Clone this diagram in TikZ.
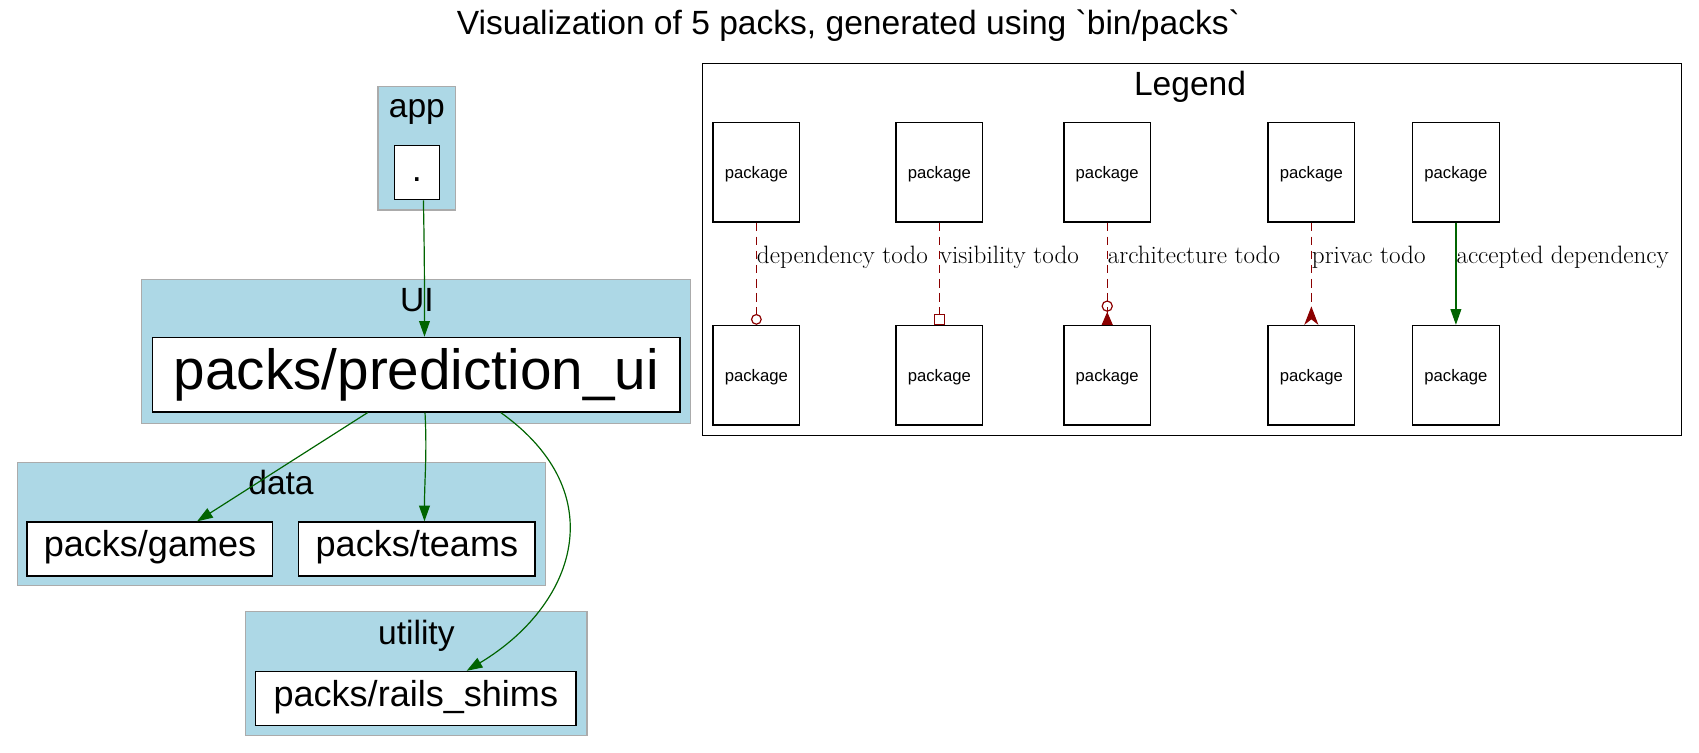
\documentclass[tikz,border=0pt]{standalone}
\usepackage{fontspec}
\usepackage{tikz}
\usetikzlibrary{arrows.meta}
\newfontfamily\gvfont{Liberation Sans}
\definecolor{clusterfill}{HTML}{ADD8E6}
\definecolor{clusterline}{HTML}{ABABAB}
\definecolor{okgreen}{HTML}{006400}
\definecolor{todored}{HTML}{8B0000}

\begin{document}
\begin{tikzpicture}[x=1pt,y=1pt,yscale=-1,
  cluster/.style={draw=clusterline,fill=clusterfill,line width=1.1pt},
  clusterlabel/.style={inner sep=0pt,font=\gvfont\fontsize{31}{37}\selectfont},
  pack/.style={draw=black,fill=white,line width=1.1pt,inner sep=0pt,font=\gvfont\fontsize{33.3}{40}\selectfont,text height=24pt,text depth=10pt},
  legendpack/.style={draw=black,fill=white,line width=1.1pt,inner sep=0pt,minimum width=80pt,minimum height=92pt,font=\gvfont\fontsize{15.4}{18}\selectfont,text height=12pt,text depth=1pt},
  dep/.style={color=okgreen,line width=1.1pt,-{Triangle[length=14.5pt,width=10pt]}},
  todo/.style={color=todored,line width=1.1pt,dash pattern=on 8pt off 5pt},
  edgelabel/.style={midway,anchor=base west,inner sep=0pt,xshift=0pt,yshift=9.6pt,text=black,font=\fontsize{23.2}{27}\selectfont}]
\useasboundingbox (0,0) rectangle (1569,695);

% Title
\node[clusterlabel] (title) at (783.5,24) {Visualization of 5 packs, generated using `bin/packs`};

% Clusters
\draw[cluster] (349,80) rectangle (421,194);
\node[clusterlabel] (applabel) at (385,103) {app};
\draw[cluster] (131,258) rectangle (638,391);
\node[clusterlabel] (uilabel) at (385,277.5) {UI};
\draw[cluster] (16,427) rectangle (504,541);
\node[clusterlabel] (datalabel) at (259.5,446) {data};
\draw[cluster] (227,565) rectangle (542,679);
\node[clusterlabel] (utilitylabel) at (384.5,587) {utility};

% Packs
\node[pack,minimum width=42pt,minimum height=50pt,text depth=7pt] (dot) at (385,159.4) {.};
\node[pack,minimum width=487pt,minimum height=69pt,font=\gvfont\fontsize{52.3}{60}\selectfont,text height=40pt,text depth=12pt] (predui) at (384.5,346) {packs/prediction\_ui};
\node[pack,minimum width=227pt,minimum height=50pt] (games) at (138.5,507) {packs/games};
\node[pack,minimum width=218pt,minimum height=50pt] (teams) at (385,507) {packs/teams};
\node[pack,minimum width=296pt,minimum height=50pt] (shims) at (384,645) {packs/rails\_shims};

% Dependencies
\draw[dep] ([xshift=6pt]dot.south) .. controls +(1,50) and +(0,-50) .. ([xshift=7.5pt]predui.north);
\draw[dep] ([xshift=-45pt]predui.south) -- ([xshift=43.5pt]games.north);
\draw[dep] ([xshift=8pt]predui.south) .. controls +(2,40) and +(0,-40) .. ([xshift=7pt]teams.north);
\draw[dep] ([xshift=78pt]predui.south) .. controls +(105,75) and +(100,-60) .. ([xshift=47pt]shims.north);

% Legend
\draw[line width=1.1pt] (649,59) rectangle (1553,402);
\node[clusterlabel] (legendlabel) at (1099,80) {Legend};
\foreach \name/\x in {dep/698.5,vis/867.5,arch/1022.5,priv/1211,ok/1344.5}{
  \node[legendpack] (\name1) at (\x,159) {package};
  \node[legendpack] (\name2) at (\x,346.5) {package};
}
\draw[todo,-{Circle[open,length=10pt,width=10pt]}] (dep1) -- (dep2) node[edgelabel] {dependency todo};
\draw[todo,-{Square[open,length=10pt,width=10pt]}] (vis1) -- (vis2) node[edgelabel] {visibility todo};
\draw[todo,-{Circle[open,length=10.5pt,width=10.5pt] Triangle[reversed,length=12pt,width=10pt]}] (arch1) -- (arch2) node[edgelabel] {architecture todo};
\draw[todo,-{Stealth[reversed,length=17pt,width=13pt,inset=5pt]}] (priv1) -- (priv2) node[edgelabel] {privac todo};
\draw[dep] (ok1) -- (ok2) node[edgelabel] {accepted dependency};

\end{tikzpicture}
\end{document}
